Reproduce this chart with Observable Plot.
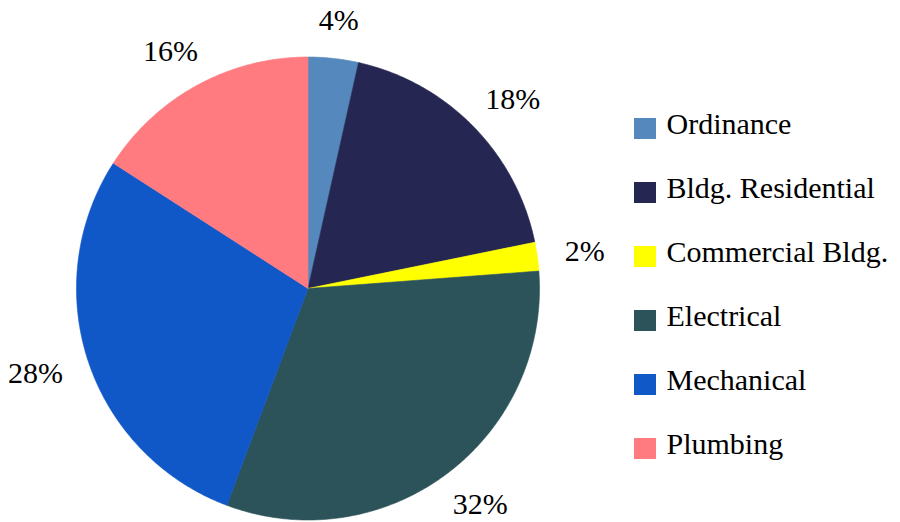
<!DOCTYPE html>
<html>
<head>
<meta charset="utf-8">
<script src="https://cdn.jsdelivr.net/npm/d3@7"></script>
<script src="https://cdn.jsdelivr.net/npm/@observablehq/plot@0.6"></script>
<style>
  html, body { margin: 0; padding: 0; background: #fff; font-family: "Liberation Serif", "Times New Roman", Times, serif; }
  #chart svg { display: block; }
  #chart svg text { font-family: "Liberation Serif", "Times New Roman", Times, serif !important; }
</style>
</head>
<body>
<div id="chart"></div>
<script>
// ---- data ----
const categories = ["Ordinance", "Bldg. Residential", "Commercial Bldg.", "Electrical", "Mechanical", "Plumbing"];
const shares = [3.5, 18.3, 2.0, 31.9, 28.4, 15.9];
const percentLabels = ["4%", "18%", "2%", "32%", "28%", "16%"];
const colors = ["#5589BD", "#262653", "#FFFF00", "#2C5359", "#1057C7", "#FF7B80"];

// ---- layout ----
const W = 900, H = 522;
const cx = 307.5, cy = 288, R = 231.5, gap = 28, fs = 30;
const serif = "Liberation Serif, Times New Roman, Times, serif";

const pie = d3.pie().sort(null).value(d => d.v)(categories.map((c, i) => ({c, v: shares[i], label: percentLabels[i]})));

const slicePts = [];
pie.forEach(p => {
  const n = Math.max(8, Math.ceil((p.endAngle - p.startAngle) / 0.01));
  slicePts.push({c: p.data.c, x: cx, y: cy});
  for (let k = 0; k <= n; k++) {
    const a = p.startAngle + (p.endAngle - p.startAngle) * k / n;
    slicePts.push({c: p.data.c, x: cx + R * Math.sin(a), y: cy - R * Math.cos(a)});
  }
  slicePts.push({c: p.data.c, x: cx, y: cy});
});

const labels = pie.map(p => {
  const a = (p.startAngle + p.endAngle) / 2;
  const ux = Math.sin(a), uy = -Math.cos(a);
  const w = p.data.label.length === 2 ? 1.333 * fs : 1.833 * fs, h = 0.7 * fs;
  return {label: p.data.label,
          x: cx + (R + gap) * ux + (w / 2) * ux,
          y: cy + (R + gap) * uy + (h / 2) * uy};
});

const legendX = 634, legendTextX = 666, legendY0 = 128, legendStep = 64;
const legend = categories.map((c, i) => ({c, y: legendY0 + i * legendStep}));

const chart = Plot.plot({
  width: W, height: H,
  margin: 0,
  x: {domain: [0, W], range: [0, W], axis: null},
  y: {domain: [0, H], range: [0, H], axis: null},
  color: {domain: categories, range: colors},
  style: {fontFamily: serif},
  marks: [
    Plot.line(slicePts, {x: "x", y: "y", z: "c", fill: "c", stroke: "c", strokeWidth: 0.6, curve: "linear"}),
    Plot.text(labels, {x: "x", y: "y", text: "label", fontSize: fs, fill: "#000", textAnchor: "middle", lineAnchor: "middle", fontFamily: serif}),
    Plot.rect(legend, {x1: () => legendX, x2: () => legendX + 22, y1: d => d.y - 10, y2: d => d.y + 11, fill: "c"}),
    Plot.text(legend, {x: () => legendTextX, y: d => d.y + 5, text: "c", fontSize: fs, fill: "#000", textAnchor: "start", lineAnchor: "bottom", fontFamily: serif})
  ]
});
chart.querySelectorAll("text").forEach(t => t.setAttribute("font-family", serif));
document.getElementById("chart").appendChild(chart);
// force style resolution and font loading (as in the working run)
const firstText = chart.querySelector("text");
window.__cf = getComputedStyle(firstText).fontFamily + " " + document.fonts.check("30px 'Liberation Serif'");
document.fonts.load("30px 'Liberation Serif'");
</script>
</body>
</html>
